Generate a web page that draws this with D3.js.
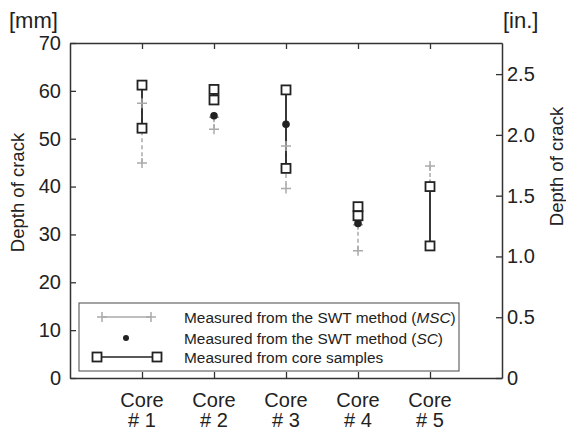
<!DOCTYPE html>
<html>
<head>
<meta charset="utf-8">
<script src="https://cdn.jsdelivr.net/npm/d3@7"></script>
<style>
  body { margin: 0; background: #fff; }
  text { font-family: "Liberation Sans", Arial, sans-serif; fill: #222; }
</style>
</head>
<body>
<div id="chart"></div>
<script>
// data (mm)
let cores = ["Core 1", "Core 2", "Core 3", "Core 4", "Core 5"];
let coreLabels = ["# 1", "# 2", "# 3", "# 4", "# 5"];
let mscTop = [57.4, 54.5, 48.5, 32.0, 44.3];
let mscBottom = [44.9, 52.0, 39.6, 26.6, 40.5];
let scValues = [null, 54.8, 53.0, 32.3, null];
let sampleTop = [61.2, 60.3, 60.2, 35.8, 40.0];
let sampleBottom = [52.2, 58.1, 43.8, 33.9, 27.6];
let mmTicks = [0, 10, 20, 30, 40, 50, 60, 70];
let inTicks = [0, 0.5, 1.0, 1.5, 2.0, 2.5];
let legendLabels = ["Measured from the SWT method (", "Measured from the SWT method (", "Measured from core samples"];

let margin = { top: 43, right: 64, bottom: 53, left: 70 };
let width = 566 - margin.left - margin.right,
    height = 431 - margin.top - margin.bottom;

let svg = d3.select("#chart").append("svg")
    .attr("width", 566)
    .attr("height", 431)
    .append("g")
    .attr("transform", "translate(" + margin.left + "," + margin.top + ")");

let x = d3.scaleLinear().domain([0, 6]).range([0, width]);
let y = d3.scaleLinear().domain([0, 70]).range([height, 0]);
let yIn = d3.scaleLinear().domain([0, 70 / 25.4]).range([height, 0]);

let grey = "#aaa", black = "#222", axisCol = "#333";

// axes, ticks pointing inward
let idx = d3.range(1, 6);
svg.append("g").attr("class", "axis")
    .call(d3.axisLeft(y).tickValues(mmTicks).tickSizeInner(-6).tickSizeOuter(0).tickPadding(9));
svg.append("g").attr("class", "axis")
    .attr("transform", "translate(" + width + ",0)")
    .call(d3.axisRight(yIn).tickValues(inTicks).tickSizeInner(-6).tickSizeOuter(0).tickPadding(5)
        .tickFormat(d => d === 0 ? "0" : d3.format(".1f")(d)));
svg.append("g").attr("class", "axis")
    .attr("transform", "translate(0," + height + ")")
    .call(d3.axisBottom(x).tickValues(idx).tickSizeInner(-6).tickSizeOuter(0).tickFormat(""));
svg.append("g").attr("class", "axis")
    .call(d3.axisTop(x).tickValues(idx).tickSizeInner(-6).tickSizeOuter(0).tickFormat(""));

svg.selectAll(".axis path").attr("stroke", axisCol).attr("stroke-width", 1.5);
svg.selectAll(".axis line").attr("stroke", axisCol).attr("stroke-width", 1.3);
svg.selectAll(".axis text").style("font-size", "20px").attr("fill", "#222")
    .style("font-family", "'Liberation Sans', Arial, sans-serif");

// category labels
cores.forEach((c, i) => {
    svg.append("text").attr("x", x(i + 1)).attr("y", height + 29)
        .attr("text-anchor", "middle").style("font-size", "20px").text("Core");
    svg.append("text").attr("x", x(i + 1)).attr("y", height + 49)
        .attr("text-anchor", "middle").style("font-size", "20px").text(coreLabels[i]);
});

// units and axis titles
svg.append("text").attr("x", -61).attr("y", -15).style("font-size", "22px").text("[mm]");
svg.append("text").attr("x", width + 1).attr("y", -15).style("font-size", "22px").text("[in.]");
svg.append("text").attr("transform", "translate(-46," + (y(35) - 18) + ") rotate(-90)")
    .attr("text-anchor", "middle").style("font-size", "18.5px").text("Depth of crack");
svg.append("text").attr("transform", "translate(" + (width + 61) + "," + (y(35) - 44) + ") rotate(-90)")
    .attr("text-anchor", "middle").style("font-size", "18.5px").text("Depth of crack");

// MSC dashed ranges
svg.selectAll(".msc-line").data(cores).enter().append("line")
    .attr("x1", (d, i) => x(i + 1)).attr("x2", (d, i) => x(i + 1))
    .attr("y1", (d, i) => y(mscTop[i])).attr("y2", (d, i) => y(mscBottom[i]))
    .attr("stroke", grey).attr("stroke-width", 1.5).attr("stroke-dasharray", "4,3");

// core sample ranges
svg.selectAll(".core-line").data(cores).enter().append("line")
    .attr("x1", (d, i) => x(i + 1)).attr("x2", (d, i) => x(i + 1))
    .attr("y1", (d, i) => y(sampleTop[i])).attr("y2", (d, i) => y(sampleBottom[i]))
    .attr("stroke", black).attr("stroke-width", 1.8);

function cross(g, cx, cy) {
    g.append("path").attr("d", "M" + (cx - 5) + "," + cy + "h10M" + cx + "," + (cy - 5) + "v10")
        .attr("stroke", grey).attr("stroke-width", 1.5).attr("fill", "none");
}
function square(g, cx, cy) {
    g.append("rect").attr("x", cx - 4.5).attr("y", cy - 4.5).attr("width", 9).attr("height", 9)
        .attr("fill", "#fff").attr("stroke", black).attr("stroke-width", 1.8);
}

cores.forEach((c, i) => {
    cross(svg, x(i + 1), y(mscTop[i]));
    cross(svg, x(i + 1), y(mscBottom[i]));
});
svg.selectAll(".sc").data(scValues.map((v, i) => [i, v]).filter(d => d[1] !== null)).enter()
    .append("circle")
    .attr("cx", d => x(d[0] + 1)).attr("cy", d => y(d[1])).attr("r", 3.8).attr("fill", black);
cores.forEach((c, i) => {
    square(svg, x(i + 1), y(sampleTop[i]));
    square(svg, x(i + 1), y(sampleBottom[i]));
});

// legend
let lg = svg.append("g").attr("transform", "translate(9,260)");
lg.append("rect").attr("width", 380).attr("height", 68)
    .attr("fill", "#fff").attr("stroke", "#666").attr("stroke-width", 1.2);
let rows = [14, 35, 54];
lg.append("line").attr("x1", 23).attr("x2", 72).attr("y1", rows[0]).attr("y2", rows[0])
    .attr("stroke", grey).attr("stroke-width", 1.3);
cross(lg, 23, rows[0]);
cross(lg, 72, rows[0]);
lg.append("circle").attr("cx", 47).attr("cy", rows[1]).attr("r", 3).attr("fill", black);
lg.append("line").attr("x1", 18).attr("x2", 78).attr("y1", rows[2]).attr("y2", rows[2])
    .attr("stroke", black).attr("stroke-width", 1.6);
square(lg, 18, rows[2]);
square(lg, 78, rows[2]);

let t0 = lg.append("text").attr("x", 105).attr("y", rows[0] + 5.5).style("font-size", "15.4px");
t0.append("tspan").text(legendLabels[0]);
t0.append("tspan").style("font-style", "italic").text("MSC");
t0.append("tspan").text(")");
let t1 = lg.append("text").attr("x", 105).attr("y", rows[1] + 5.5).style("font-size", "15.4px");
t1.append("tspan").text(legendLabels[1]);
t1.append("tspan").style("font-style", "italic").text("SC");
t1.append("tspan").text(")");
lg.append("text").attr("x", 105).attr("y", rows[2] + 5.5).style("font-size", "15.4px").text(legendLabels[2]);
</script>
</body>
</html>
